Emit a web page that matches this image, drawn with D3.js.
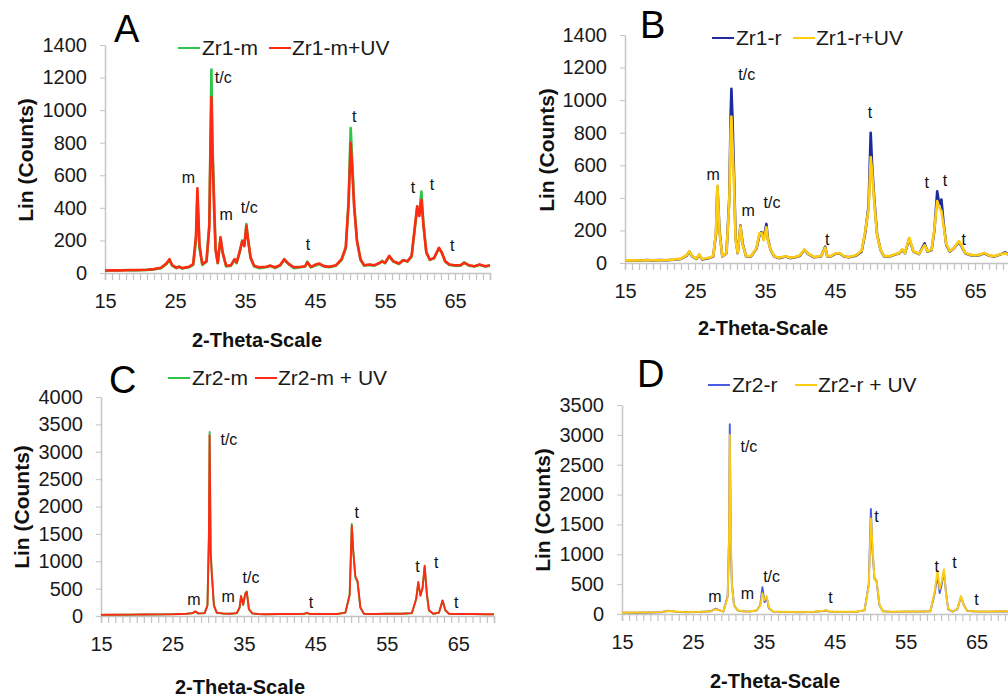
<html>
<head>
    <script src="https://d3js.org/d3.v7.min.js"></script>
    <style>
        body { margin: 0; background: white; }
        text { font-family: "Liberation Sans", Arial, sans-serif; }
    </style>
</head>
<body>
    <svg id="xrd" width="1008" height="699"></svg>

    <script>
    // ----- data: [2-theta, counts] -----
    const zr1m = [[15,14],[16,16],[17,15],[18,18],[19,16],[20,17],[21,19],[22,22],[23,30],[23.8,55],[24.2,80],[24.6,45],[25.2,30],[25.6,40],[26,28],[27,35],[27.6,50],[28,200],[28.2,470],[28.5,150],[28.9,50],[29.5,70],[29.9,300],[30.1,900],[30.2,1250],[30.35,800],[30.6,420],[30.8,150],[31.1,60],[31.5,210],[31.8,130],[32.3,40],[33,45],[33.5,80],[33.8,60],[34.2,120],[34.6,200],[34.9,170],[35.2,300],[35.4,220],[35.8,90],[36.3,40],[37,30],[38,35],[38.6,45],[39.3,30],[40,45],[40.6,80],[41.2,55],[42,30],[43,35],[43.6,40],[43.9,70],[44.4,35],[45,45],[45.6,55],[46.3,40],[47,35],[48,45],[48.8,80],[49.4,150],[49.8,450],[50.1,890],[50.3,700],[50.6,420],[51,200],[51.5,80],[52,45],[52.8,50],[53.5,45],[54.2,60],[54.6,75],[55,60],[55.6,100],[56.2,70],[57,55],[57.6,80],[58.2,70],[58.8,100],[59.2,250],[59.6,400],[59.9,360],[60.2,500],[60.5,300],[60.9,130],[61.4,80],[62,90],[62.7,150],[63.1,130],[63.6,70],[64.2,50],[65,45],[65.8,45],[66.3,65],[67,45],[67.8,40],[68.5,50],[69.3,40],[70,45]];
    const zr1mUV = [[15,15],[16,17],[17,16],[18,17],[19,18],[20,18],[21,20],[22,24],[23,32],[23.8,60],[24.2,85],[24.6,48],[25.2,32],[25.6,38],[26,30],[27,38],[27.6,55],[28,230],[28.2,520],[28.5,170],[28.9,55],[29.5,72],[29.9,280],[30.1,850],[30.2,1080],[30.35,750],[30.6,380],[30.8,140],[31.1,62],[31.5,220],[31.8,125],[32.3,45],[33,48],[33.5,85],[33.8,65],[34.2,125],[34.6,195],[34.9,165],[35.2,290],[35.4,215],[35.8,95],[36.3,45],[37,35],[38,38],[38.6,45],[39.3,35],[40,48],[40.6,85],[41.2,58],[42,35],[43,38],[43.6,42],[43.9,65],[44.4,38],[45,50],[45.6,58],[46.3,42],[47,38],[48,48],[48.8,85],[49.4,160],[49.8,430],[50.1,800],[50.3,650],[50.6,400],[51,195],[51.5,85],[52,48],[52.8,52],[53.5,48],[54.2,62],[54.6,70],[55,62],[55.6,105],[56.2,72],[57,58],[57.6,78],[58.2,72],[58.8,105],[59.2,260],[59.6,410],[59.9,350],[60.2,450],[60.5,290],[60.9,125],[61.4,82],[62,92],[62.7,155],[63.1,125],[63.6,72],[64.2,52],[65,48],[65.8,48],[66.3,62],[67,48],[67.8,42],[68.5,52],[69.3,42],[70,48]];

    const zr1r = [[15,15],[16,17],[17,14],[18,18],[19,16],[20,18],[21,17],[22,20],[23,25],[23.8,45],[24.2,70],[24.6,40],[25.2,25],[25.6,50],[26,22],[27,30],[27.6,40],[28,180],[28.2,470],[28.5,200],[28.9,40],[29.5,60],[29.9,400],[30.1,920],[30.2,1070],[30.35,900],[30.6,500],[30.8,150],[31.1,60],[31.5,230],[31.8,120],[32.3,40],[33,40],[33.5,70],[33.8,90],[34.2,170],[34.5,190],[34.8,150],[35.2,240],[35.4,150],[35.8,80],[36.3,40],[37,30],[38,40],[38.6,30],[39.3,35],[40,45],[40.6,80],[41.2,55],[42,35],[43,40],[43.6,100],[43.9,40],[44.4,40],[45,55],[45.6,60],[46.3,40],[47,35],[48,45],[48.8,70],[49.3,180],[49.8,350],[50.1,800],[50.3,600],[50.6,400],[51,180],[51.5,80],[52,40],[52.8,40],[53.5,50],[54.2,60],[54.6,80],[55,60],[55.6,150],[56.2,70],[57,55],[57.8,120],[58.2,70],[58.8,80],[59.2,200],[59.6,440],[59.9,360],[60.2,390],[60.5,250],[60.9,110],[61.4,70],[62,90],[62.7,130],[63.1,100],[63.6,60],[64.2,50],[65,45],[65.8,50],[66.3,60],[67,45],[67.8,40],[68.5,50],[69.3,65],[70,45]];
    const zr1rUV = [[15,16],[16,16],[17,15],[18,17],[19,17],[20,17],[21,18],[22,21],[23,27],[23.8,48],[24.2,72],[24.6,42],[25.2,27],[25.6,52],[26,24],[27,32],[27.6,42],[28,190],[28.2,475],[28.5,190],[28.9,42],[29.5,62],[29.9,380],[30.1,820],[30.2,900],[30.35,740],[30.6,450],[30.8,140],[31.1,62],[31.5,225],[31.8,115],[32.3,42],[33,42],[33.5,72],[33.8,95],[34.2,180],[34.5,185],[34.8,140],[35.2,220],[35.4,140],[35.8,82],[36.3,42],[37,32],[38,42],[38.6,32],[39.3,37],[40,48],[40.6,82],[41.2,56],[42,37],[43,42],[43.6,95],[43.9,42],[44.4,42],[45,57],[45.6,62],[46.3,42],[47,37],[48,47],[48.8,75],[49.3,190],[49.8,330],[50.1,650],[50.3,560],[50.6,380],[51,175],[51.5,82],[52,42],[52.8,42],[53.5,52],[54.2,62],[54.6,85],[55,62],[55.6,155],[56.2,72],[57,57],[57.8,110],[58.2,72],[58.8,82],[59.2,210],[59.6,380],[59.9,340],[60.2,320],[60.5,230],[60.9,115],[61.4,72],[62,92],[62.7,135],[63.1,105],[63.6,62],[64.2,52],[65,47],[65.8,52],[66.3,62],[67,47],[67.8,42],[68.5,52],[69.3,60],[70,47]];

    const zr2m = [[15,20],[17,25],[19,22],[21,30],[23,28],[25,35],[27,40],[27.8,50],[28.2,80],[28.6,45],[29.5,50],[29.9,200],[30.1,1500],[30.2,3360],[30.35,1200],[30.5,800],[30.8,200],[31.2,60],[32,45],[33,40],[34,50],[34.4,150],[34.6,370],[34.9,200],[35.2,420],[35.4,450],[35.7,120],[36.2,45],[37,35],[38,30],[40,35],[42,35],[43.5,40],[43.8,55],[44.2,35],[46,35],[48,35],[49.2,60],[49.8,400],[50.1,1680],[50.3,1200],[50.6,700],[50.9,620],[51.3,150],[51.8,40],[53,35],[55,40],[57,40],[58.5,50],[59.1,300],[59.4,600],[59.7,380],[60,500],[60.3,900],[60.6,400],[60.9,100],[61.5,40],[62.3,60],[62.8,280],[63.2,100],[63.7,40],[65,35],[67,35],[69,30],[70,30]];
    const zr2mUV = [[15,22],[17,24],[19,25],[21,28],[23,30],[25,33],[27,42],[27.8,52],[28.2,85],[28.6,48],[29.5,52],[29.9,190],[30.1,1400],[30.2,3300],[30.35,1150],[30.5,780],[30.8,190],[31.2,62],[32,47],[33,42],[34,52],[34.4,160],[34.6,360],[34.9,210],[35.2,410],[35.4,440],[35.7,125],[36.2,47],[37,37],[38,32],[40,37],[42,37],[43.5,42],[43.8,58],[44.2,37],[46,37],[48,37],[49.2,62],[49.8,380],[50.1,1650],[50.3,1180],[50.6,720],[50.9,640],[51.3,155],[51.8,42],[53,37],[55,42],[57,42],[58.5,52],[59.1,310],[59.4,620],[59.7,370],[60,510],[60.3,920],[60.6,410],[60.9,105],[61.5,42],[62.3,62],[62.8,285],[63.2,105],[63.7,42],[65,37],[67,37],[69,32],[70,32]];

    const zr2r = [[15,20],[17,22],[19,25],[20.5,30],[21.5,55],[22.5,40],[24,30],[26,35],[27.5,45],[28.2,90],[28.6,70],[29.3,40],[29.9,300],[30.1,1300],[30.2,3180],[30.35,1100],[30.5,500],[30.8,150],[31.3,60],[32,45],[33,40],[34,60],[34.5,150],[34.8,450],[35.1,200],[35.4,280],[35.7,100],[36.3,40],[38,35],[40,30],[42,35],[43.5,50],[43.8,60],[44.2,40],[46,35],[48,35],[49.2,60],[49.8,500],[50.1,1760],[50.3,1100],[50.6,600],[50.9,550],[51.3,150],[51.8,45],[53,35],[55,40],[57,40],[58.5,45],[59.1,350],[59.5,650],[59.8,350],[60.1,500],[60.4,720],[60.7,350],[61,80],[61.6,40],[62.3,80],[62.8,290],[63.2,150],[63.7,50],[65,40],[67,40],[69,45],[70,40]];
    const zr2rUV = [[15,22],[17,24],[19,27],[20.5,32],[21.5,50],[22.5,42],[24,32],[26,37],[27.5,47],[28.2,80],[28.6,65],[29.3,42],[29.9,280],[30.1,1250],[30.2,3000],[30.35,1300],[30.5,480],[30.8,140],[31.3,62],[32,47],[33,42],[34,62],[34.5,140],[34.8,350],[35.1,230],[35.4,300],[35.7,110],[36.3,42],[38,37],[40,32],[42,37],[43.5,55],[43.8,65],[44.2,42],[46,37],[48,37],[49.2,62],[49.8,480],[50.1,1600],[50.3,1200],[50.6,580],[50.9,570],[51.3,160],[51.8,47],[53,37],[55,42],[57,42],[58.5,47],[59.1,380],[59.5,720],[59.8,420],[60.1,550],[60.4,750],[60.7,330],[61,90],[61.6,42],[62.3,85],[62.8,300],[63.2,140],[63.7,52],[65,42],[67,42],[69,47],[70,42]];

    // peak labels [2-theta, counts, text]
    const labelsA = [[26.9,552,"m"],[31.9,1166,"t/c"],[32.3,325,"m"],[35.6,368,"t/c"],[44,141,"t"],[50.6,926,"t"],[59,491,"t"],[61.7,509,"t"],[64.6,135,"t"]];
    const labelsB = [[27.6,509,"m"],[32.4,1123,"t/c"],[32.6,288,"m"],[36,337,"t/c"],[43.9,110,"t"],[50,890,"t"],[58.1,460,"t"],[60.7,472,"t"],[63.4,110,"t"]];
    const labelsC = [[28,200,"m"],[32.9,3120,"t/c"],[32.8,255,"m"],[36,600,"t/c"],[44.4,146,"t"],[50.8,1790,"t"],[59.3,800,"t"],[61.9,875,"t"],[64.7,146,"t"]];
    const labelsD = [[28.1,200,"m"],[32.9,2710,"t/c"],[32.7,250,"m"],[36.1,535,"t/c"],[44.4,184,"t"],[50.9,1540,"t"],[59.4,700,"t"],[61.9,770,"t"],[65,150,"t"]];

    const xTickLabels = [15, 25, 35, 45, 55, 65];
    const yTicksAB = [0, 200, 400, 600, 800, 1000, 1200, 1400];
    const yTicksC = [0, 500, 1000, 1500, 2000, 2500, 3000, 3500, 4000];
    const yTicksD = [0, 500, 1000, 1500, 2000, 2500, 3000, 3500];

    const svg = d3.select("#xrd");

    const panels = [
        { letter: "A", s1: zr1m, s2: zr1mUV, n1: "Zr1-m", n2: "Zr1-m+UV", c1: "#2ec54a", c2: "#ff2a12",
          labels: labelsA, yTicks: yTicksAB, yMax: 1400, x0: 105, x1: 490, y0: 273, y1: 45, sw: 2.6,
          letterPos: [114, 42], leg: [178, 48, 269], yTitle: [26, 160], xTitle: [257, 347] },
        { letter: "B", s1: zr1r, s2: zr1rUV, n1: "Zr1-r", n2: "Zr1-r+UV", c1: "#1b2b9e", c2: "#ffcc10",
          labels: labelsB, yTicks: yTicksAB, yMax: 1400, x0: 625, x1: 1010, y0: 263, y1: 35, sw: 2.6,
          letterPos: [640, 38], leg: [712, 38, 793], yTitle: [547, 150], xTitle: [763, 335] },
        { letter: "C", s1: zr2m, s2: zr2mUV, n1: "Zr2-m", n2: "Zr2-m + UV", c1: "#2ec54a", c2: "#ff2a12",
          labels: labelsC, yTicks: yTicksC, yMax: 4000, x0: 101, x1: 494, y0: 616, y1: 397, sw: 1.9,
          letterPos: [109, 393], leg: [168, 378, 255], yTitle: [22, 507], xTitle: [240, 694] },
        { letter: "D", s1: zr2r, s2: zr2rUV, n1: "Zr2-r", n2: "Zr2-r + UV", c1: "#4a5ae6", c2: "#ffcc10",
          labels: labelsD, yTicks: yTicksD, yMax: 3500, x0: 622, x1: 1012, y0: 614, y1: 405, sw: 1.9,
          letterPos: [637, 387], leg: [708, 385, 795], yTitle: [543, 510], xTitle: [775, 688] }
    ];

    panels.forEach(function (p) {
        const g = svg.append("g");
        const x = d3.scaleLinear().domain([15, 70]).range([p.x0, p.x1]);
        const y = d3.scaleLinear().domain([0, p.yMax]).range([p.y0, p.y1]);

        // x axis: a tick every degree, labels every 10
        const xAxis = g.append("g")
            .attr("transform", `translate(0,${p.y0})`)
            .call(d3.axisBottom(x).tickValues(d3.range(15, 71, 1)).tickSize(7).tickPadding(14)
                .tickFormat(d => xTickLabels.includes(d) ? d : ""));
        xAxis.select(".domain").attr("stroke", "#c4c4c4").attr("stroke-width", 1.5);
        xAxis.selectAll(".tick line").attr("stroke", "#c4c4c4").attr("stroke-width", 1.2);
        xAxis.selectAll(".tick text").attr("font-size", 20).attr("fill", "#1a1a1a")
            .attr("font-family", "Liberation Sans, Arial, sans-serif");

        const yAxis = g.append("g")
            .attr("transform", `translate(${p.x0},0)`)
            .call(d3.axisLeft(y).tickValues(p.yTicks).tickSize(5).tickPadding(13).tickSizeOuter(0)
                .tickFormat(d3.format("d")));
        yAxis.select(".domain").attr("stroke", "#c4c4c4").attr("stroke-width", 1.5);
        yAxis.selectAll(".tick line").attr("stroke", "#c4c4c4");
        yAxis.selectAll(".tick text").attr("font-size", 20).attr("fill", "#1a1a1a")
            .attr("font-family", "Liberation Sans, Arial, sans-serif");

        const line = d3.line().x(d => x(d[0])).y(d => y(d[1]));
        g.append("path").datum(p.s1).attr("d", line)
            .attr("fill", "none").attr("stroke", p.c1).attr("stroke-width", p.sw).attr("stroke-linejoin", "round");
        g.append("path").datum(p.s2).attr("d", line)
            .attr("fill", "none").attr("stroke", p.c2).attr("stroke-width", p.sw).attr("stroke-linejoin", "round");

        // peak labels
        g.selectAll(".peak").data(p.labels).join("text")
            .attr("class", "peak")
            .attr("x", d => x(d[0])).attr("y", d => y(d[1]))
            .attr("text-anchor", "middle").attr("font-size", 16).attr("fill", "#111")
            .text(d => d[2]);

        // panel letter
        g.append("text").attr("x", p.letterPos[0]).attr("y", p.letterPos[1])
            .attr("font-size", 38).attr("fill", "#000").text(p.letter);

        // legend
        g.append("line").attr("x1", p.leg[0]).attr("x2", p.leg[0] + 22)
            .attr("y1", p.leg[1]).attr("y2", p.leg[1]).attr("stroke", p.c1).attr("stroke-width", 2);
        g.append("text").attr("x", p.leg[0] + 24).attr("y", p.leg[1] + 7)
            .attr("font-size", 21).attr("fill", "#1a1a1a").text(p.n1);
        g.append("line").attr("x1", p.leg[2]).attr("x2", p.leg[2] + 22)
            .attr("y1", p.leg[1]).attr("y2", p.leg[1]).attr("stroke", p.c2).attr("stroke-width", 2);
        g.append("text").attr("x", p.leg[2] + 23).attr("y", p.leg[1] + 7)
            .attr("font-size", 21).attr("fill", "#1a1a1a").text(p.n2);

        // axis titles
        g.append("text").attr("transform", `translate(${p.yTitle[0]},${p.yTitle[1]}) rotate(-90)`)
            .attr("text-anchor", "middle").attr("dy", "0.35em")
            .attr("font-size", 21).attr("font-weight", "bold").attr("fill", "#111").text("Lin (Counts)");
        g.append("text").attr("x", p.xTitle[0]).attr("y", p.xTitle[1])
            .attr("text-anchor", "middle").attr("font-size", 20).attr("font-weight", "bold")
            .attr("fill", "#111").text("2-Theta-Scale");
    });
    </script>
</body>
</html>
